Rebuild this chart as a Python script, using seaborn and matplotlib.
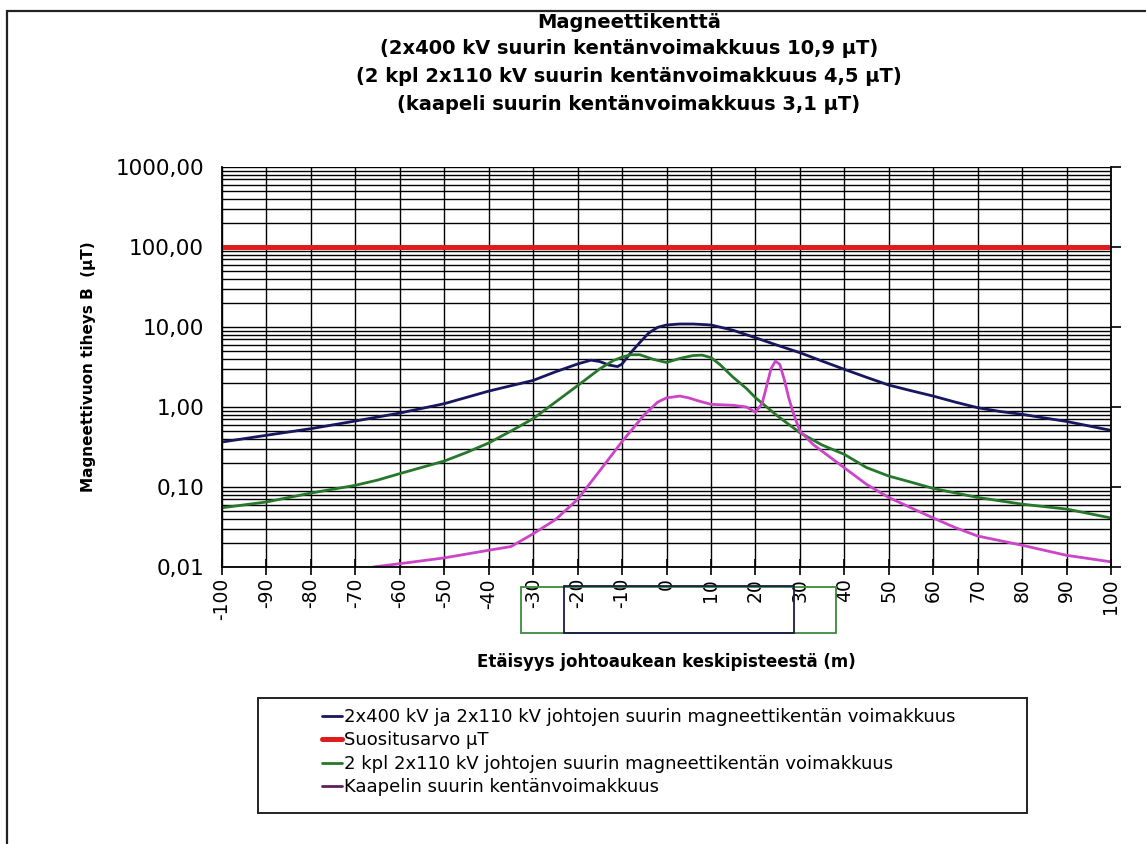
import numpy as np
import pandas as pd
import matplotlib
matplotlib.use("Agg")
import matplotlib.pyplot as plt
import matplotlib.ticker as mticker
import matplotlib.transforms as mtransforms
from matplotlib.patches import Rectangle
from matplotlib.lines import Line2D
import seaborn as sns

# --- data -----------------------------------------------------------------
# 2x400 kV + 2x110 kV lines, maximum magnetic flux density (µT)
x_400 = [-100, -90, -80, -70, -60, -50, -40, -30, -25, -20, -17, -15, -13, -11,
         -10, -8, -6, -4, -2, 0, 3, 6, 10, 15, 20, 25, 30, 35, 40, 45, 50, 55,
         60, 65, 70, 75, 80, 85, 90, 95, 100]
b_400 = [0.365, 0.443, 0.536, 0.668, 0.84, 1.10, 1.58, 2.15, 2.75, 3.45, 3.85,
         3.7, 3.35, 3.2, 3.45, 4.8, 6.4, 8.4, 9.9, 10.6, 10.9, 10.9, 10.6, 9.1,
         7.35, 5.9, 4.78, 3.75, 2.96, 2.35, 1.88, 1.6, 1.37, 1.15, 0.98, 0.88,
         0.81, 0.73, 0.66, 0.58, 0.51]

# Recommended limit
x_limit = [-100, 100]
b_limit = [100, 100]

# Two 2x110 kV lines
x_110 = [-100, -90, -80, -70, -65, -60, -50, -45, -40, -35, -30, -25, -20, -15,
         -12, -10, -8, -6, -3, 0, 3, 6, 8, 10, 12, 15, 18, 20, 25, 30, 35, 40,
         45, 50, 55, 60, 70, 80, 90, 100]
b_110 = [0.055, 0.065, 0.084, 0.105, 0.122, 0.147, 0.211, 0.27, 0.355, 0.5,
         0.715, 1.15, 1.85, 3.0, 3.8, 4.2, 4.5, 4.5, 3.95, 3.6, 4.05, 4.4, 4.45,
         4.15, 3.4, 2.35, 1.7, 1.31, 0.77, 0.478, 0.335, 0.256, 0.175, 0.137,
         0.115, 0.096, 0.074, 0.061, 0.053, 0.041]

# Cable
x_cable = [-66, -60, -50, -40, -35, -30, -25, -20, -15, -10, -5, -2, 0, 3, 5, 7,
           10, 15, 18, 20, 21.5, 22.5, 23.5, 24.5, 25.5, 26.5, 27.5, 28.5, 30,
           33, 35, 40, 45, 50, 55, 60, 65, 70, 80, 90, 100]
b_cable = [0.010, 0.011, 0.013, 0.0162, 0.018, 0.026, 0.039, 0.07, 0.16, 0.37,
           0.8, 1.15, 1.3, 1.37, 1.3, 1.2, 1.08, 1.05, 1.0, 0.86, 1.1, 1.8, 3.0,
           3.75, 3.4, 2.2, 1.3, 0.85, 0.5, 0.34, 0.28, 0.174, 0.108, 0.074,
           0.055, 0.041, 0.031, 0.0244, 0.0187, 0.014, 0.0116]

x_ticks = list(range(-100, 101, 10))
x_tick_labels = [str(v) for v in x_ticks]

# Line corridor extents marked under the axis (m)
corridor_110 = [-32.7, 38.1]
corridor_400 = [-23.0, 28.7]

series_labels = [
    "2x400 kV ja 2x110 kV johtojen suurin magneettikentän voimakkuus",
    "Suositusarvo µT",
    "2 kpl 2x110 kV johtojen suurin magneettikentän voimakkuus",
    "Kaapelin suurin kentänvoimakkuus",
]

title_lines = [
    "Magneettikenttä",
    "(2x400 kV suurin kentänvoimakkuus 10,9 µT)",
    "(2 kpl 2x110 kV suurin kentänvoimakkuus 4,5 µT)",
    "(kaapeli suurin kentänvoimakkuus 3,1 µT)",
]

# --- style ----------------------------------------------------------------
sns.set_theme(style="white")
plt.rcParams["font.family"] = ["DejaVu Sans"]
plt.rcParams["text.color"] = "black"
plt.rcParams["axes.labelcolor"] = "black"
plt.rcParams["xtick.color"] = "black"
plt.rcParams["ytick.color"] = "black"

c_navy = "#17175f"
c_red = "#e01c1c"
c_green = "#27772a"
c_mag = "#cc45c8"
c_mag_legend = "#5e1f5e"

W, H = 1146, 844
fig = plt.figure(figsize=(W / 100, H / 100), dpi=100)
fig.patch.set_facecolor("white")

# axes box in pixels: left 222, right 1111, top 167, bottom 567
ax = fig.add_axes([222 / W, 1 - 567 / H, (1111 - 222) / W, (567 - 167) / H])
ax.set_facecolor("white")

sns.lineplot(x=x_400, y=b_400, ax=ax, color=c_navy, lw=2.0, legend=False)
sns.lineplot(x=x_limit, y=b_limit, ax=ax, color=c_red, lw=3.6, legend=False)
sns.lineplot(x=x_110, y=b_110, ax=ax, color=c_green, lw=2.0, legend=False)
sns.lineplot(x=x_cable, y=b_cable, ax=ax, color=c_mag, lw=2.0, legend=False)

ax.set_yscale("log")
ax.set_ylim(0.01, 1000)
ax.set_xlim(-100, 100)

ax.yaxis.set_major_locator(mticker.LogLocator(base=10))
ax.yaxis.set_minor_locator(mticker.LogLocator(base=10, subs=np.arange(2, 10)))
ax.yaxis.set_minor_formatter(mticker.NullFormatter())
ax.yaxis.set_major_formatter(
    mticker.FuncFormatter(lambda v, p: f"{v:.2f}".replace(".", ",")))

ax.set_xticks(x_ticks)
ax.set_xticklabels(x_tick_labels, rotation=90, fontsize=13.5, color="black")
for lab in ax.get_yticklabels():
    lab.set_fontsize(15.5)
    lab.set_color("black")

ax.grid(True, which="both", axis="y", color="black", lw=1.0)
ax.grid(True, which="major", axis="x", color="black", lw=1.0)
ax.set_axisbelow(True)

ax.tick_params(axis="y", which="major", left=False, right=True,
               labelleft=True, labelright=False, direction="out",
               length=7, width=1.2, color="black", labelcolor="black", pad=6)
ax.tick_params(axis="y", which="minor", left=False, right=False)
ax.tick_params(axis="x", which="major", bottom=True, direction="inout",
               length=12, width=1.2, color="black", labelcolor="black", pad=2)

for side in ["left", "bottom", "right"]:
    ax.spines[side].set_visible(True)
    ax.spines[side].set_color("black")
    ax.spines[side].set_linewidth(1.3)
ax.spines["top"].set_visible(False)

ax.set_ylabel("Magneettivuon tiheys B  (µT)", fontsize=11, fontweight="bold",
              color="black")
ax.yaxis.set_label_coords(-0.142, 0.5)
ax.set_xlabel("Etäisyys johtoaukean keskipisteestä (m)", fontsize=12,
              fontweight="bold", color="black")
ax.xaxis.label.set_va("center")
ax.xaxis.set_label_coords(0.5, -0.2375)

# corridor boxes under the distance axis
blend = mtransforms.blended_transform_factory(ax.transData, ax.transAxes)
ax.add_patch(Rectangle((corridor_110[0], -0.165), corridor_110[1] - corridor_110[0],
                       0.115, transform=blend, fill=False, ec="#3c8a3c",
                       lw=1.3, clip_on=False))
ax.add_patch(Rectangle((corridor_400[0], -0.165), corridor_400[1] - corridor_400[0],
                       0.118, transform=blend, fill=False, ec="#1a1a4a",
                       lw=1.3, clip_on=False))

# title block
title_y = [22, 49, 77, 104]
for txt, yy in zip(title_lines, title_y):
    fig.text(629 / W, 1 - yy / H, txt, ha="center", va="center",
             fontsize=14, fontweight="bold", color="black")

# legend with its own frame
handles = [
    Line2D([], [], color=c_navy, lw=2.0),
    Line2D([], [], color=c_red, lw=3.6),
    Line2D([], [], color=c_green, lw=2.0),
    Line2D([], [], color=c_mag_legend, lw=2.0),
]
leg = fig.legend(handles, series_labels, loc="upper left",
                 bbox_to_anchor=(322 / W, 1 - 708 / H), frameon=False,
                 fontsize=13, handlelength=1.1, handletextpad=0.12,
                 borderpad=0, labelspacing=0.3, borderaxespad=0)
for t in leg.get_texts():
    t.set_color("black")
fig.patches.append(Rectangle((258 / W, 1 - 813 / H), (1027 - 258) / W,
                             (813 - 698) / H, transform=fig.transFigure,
                             fill=False, ec="#222222", lw=1.4))

# outer chart frame (left and top edges visible)
fig.patches.append(Rectangle((7 / W, -0.2), 1.5, 0.2 + (1 - 11 / H),
                             transform=fig.transFigure, fill=False,
                             ec="#222222", lw=1.6))

fig.savefig("out.png", dpi=100, facecolor="white")
